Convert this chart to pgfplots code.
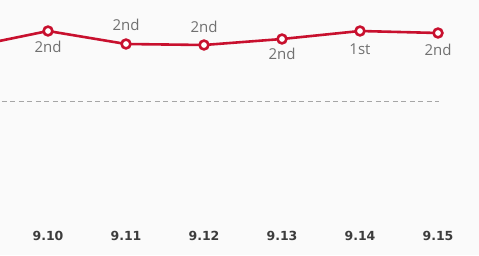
\documentclass[border=0pt]{standalone}
\usepackage{pgfplots}
\pgfplotsset{compat=1.18}
\usepackage{fontspec}
\setmainfont{Open Sans}
\newfontfamily\tickfont{DejaVu Sans}
\definecolor{lred}{RGB}{200,16,46}
\definecolor{bg}{RGB}{250,250,250}
\definecolor{lblgray}{RGB}{112,112,112}
\definecolor{tickgray}{RGB}{60,60,60}
\begin{document}
\begin{tikzpicture}[x=1pt,y=1pt]
\begin{axis}[
  scale only axis,
  width=479pt, height=255pt,
  xmin=-0.6154, xmax=5.5256,
  ymin=0, ymax=255,
  axis background/.style={fill=bg},
  axis line style={draw=none},
  tick style={draw=none},
  ytick=\empty,
  xtick={0,1,2,3,4,5},
  xticklabels={9.10,9.11,9.12,9.13,9.14,9.15},
  xticklabel style={anchor=center, yshift=19pt, font=\tickfont\bfseries\fontsize{12.5}{14}\selectfont, text=tickgray},
  clip=true,
]
\addplot[color=black!35, line width=1pt, dash pattern=on 5pt off 3.5pt] coordinates {(-0.7,154) (5.01,154)};
\addplot[color=lred, line width=2.6pt, mark=*, mark size=4.4pt,
  mark options={fill=white, draw=lred, line width=2.6pt}] coordinates {
  (-1,208) (0,224) (1,211) (2,210) (3,216) (4,224) (5,222)};
\addplot[draw=none, mark=none, nodes near coords, point meta=explicit symbolic,
  nodes near coords style={anchor=center, text=lblgray, font=\fontsize{15}{17}\selectfont}]
  table[meta=label] {
x y label
0 208 2nd
1 230 2nd
2 228 2nd
3 201 2nd
4 206 1st
5 205 2nd
};
\end{axis}
\end{tikzpicture}
\end{document}
